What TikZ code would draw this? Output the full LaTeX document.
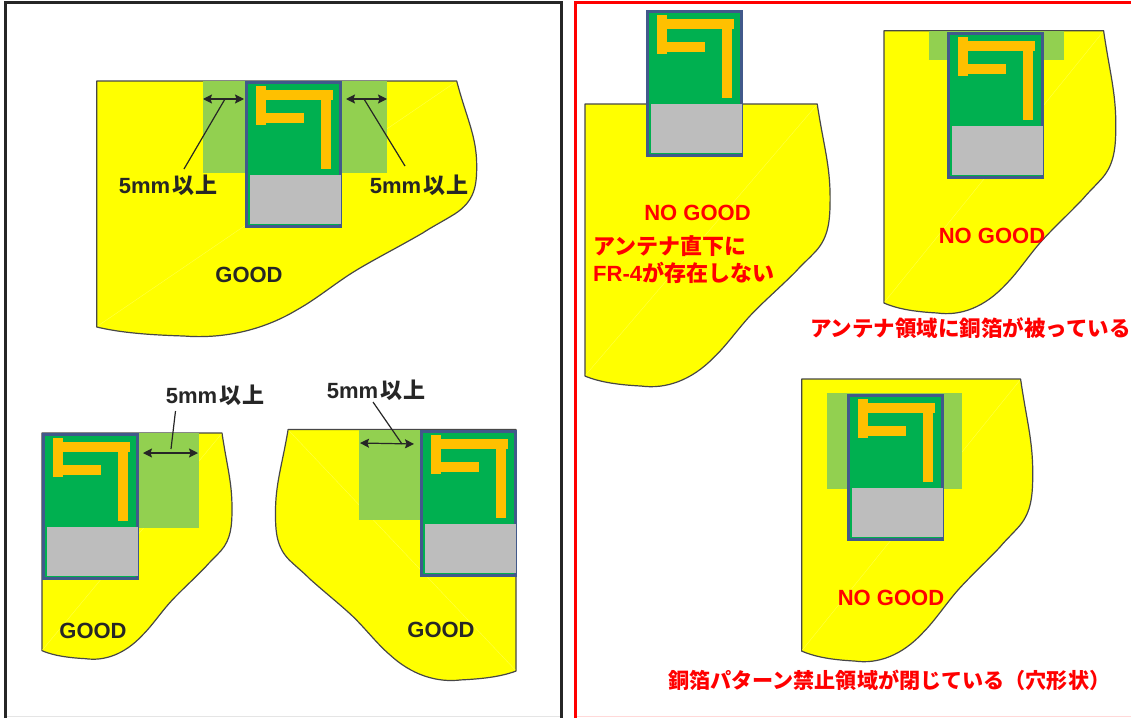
\documentclass[tikz,border=0pt]{standalone}
\usepackage{fontspec}
\usetikzlibrary{arrows.meta}
\setmainfont{Liberation Sans}
\newfontfamily\cjk{Noto Sans CJK JP}
\definecolor{padY}{HTML}{FFFF00}
\definecolor{keepG}{HTML}{92D050}
\definecolor{boardG}{HTML}{00B050}
\definecolor{boardB}{HTML}{41598B}
\definecolor{padS}{HTML}{BDBDBD}
\definecolor{antO}{HTML}{FFC000}
\definecolor{inkD}{HTML}{262626}
\tikzset{
  outlineS/.style={fill=padY,draw=inkD!85,line width=1.2pt,line join=round},
  seamS/.style={draw=padY!72!white,line width=0.4pt},
  keepS/.style={fill=keepG,draw=none},
  dimS/.style={draw=inkD,line width=1.2pt,{Stealth[length=9pt,width=9pt,inset=1.5pt]}-{Stealth[length=9pt,width=9pt,inset=1.5pt]}},
  leadS/.style={draw=inkD,line width=1.2pt},
  okT/.style={font=\fontsize{22}{24}\bfseries,text=inkD,inner sep=0pt},
  ngT/.style={font=\fontsize{22}{24}\bfseries,text=red,inner sep=0pt}
}
\newcommand{\padshape}[4]{%
  \begin{scope}[shift={(#1,#2)},xscale=#3,yscale=#4]
    \path[outlineS] (0,0) -- (360,0) .. controls (370,38) and (380,55) .. (380,85)
      .. controls (380,105) and (378,120) .. (358,133)
      .. controls (345,141) and (335,146) .. (326,152)
      .. controls (300,167) and (280,177) .. (260,189)
      .. controls (240,201) and (220,218) .. (200,229)
      .. controls (165,250) and (125,258) .. (87,255)
      .. controls (55,254) and (25,252) .. (0,246) -- cycle;
    \path[seamS] (1,245) -- (359,1);
  \end{scope}}
\newcommand{\modulebox}[2]{%
  \begin{scope}[shift={(#1,#2)}]
    \path[fill=boardG,draw=boardB,line width=3pt] (1.5,1.5) rectangle (95.5,145.5);
    \path[fill=padS] (5,94) rectangle (96,143);
    \path[fill=antO] (11,9) rectangle (88,19);
    \path[fill=antO] (11,5) rectangle (21,44);
    \path[fill=antO] (11,32) rectangle (59,42);
    \path[fill=antO] (76,19) rectangle (86,88);
  \end{scope}}
\newcommand{\five}{5mm\hspace{2pt}{\cjk 以\hspace{1pt}上}}
\begin{document}
\begin{tikzpicture}[x=1pt,y=-1pt]
\useasboundingbox (0,0) rectangle (1131,717);
\fill[white] (0,0) rectangle (1131,717);
% panels
\draw[gray!20,line width=1pt] (5,716.5) -- (561,716.5);
\draw[red!15,line width=1pt] (575,716.5) -- (1131,716.5);
\draw[inkD,line width=3pt] (5,720) -- (5,3) -- (561,3) -- (561,720);
\draw[red,line width=3pt] (575,720) -- (575,3) -- (1135,3);
% top good
\padshape{96.7}{81}{1}{1}
\fill[keepG] (203,81) rectangle (387,173);
\modulebox{245}{81}
\node[okT] (lblA) at (168,185) {\five};
\node[okT] (lblB) at (419,185) {\five};
\node[okT] (goodA) at (249,275) {GOOD};
\coordinate (a1) at (203,99); \coordinate (a2) at (244,99);
\coordinate (a3) at (346,99); \coordinate (a4) at (387,99);
\coordinate (l1) at (225,99); \coordinate (l2) at (184,169);
\coordinate (l3) at (364,99); \coordinate (l4) at (405,166);
\draw[dimS] (a1) -- (a2);
\draw[dimS] (a3) -- (a4);
\draw[leadS] (l1) -- (l2);
\draw[leadS] (l3) -- (l4);
% bottom left good
\padshape{42}{433}{0.5}{0.885}
\fill[keepG] (139,433) rectangle (199,528);
\modulebox{42}{433}
\node[okT] (lblC) at (215,395) {\five};
\node[okT] (goodB) at (93,630.5) {GOOD};
\coordinate (b1) at (143,453); \coordinate (b2) at (198,453);
\coordinate (b3) at (175.5,411); \coordinate (b4) at (171,449);
\draw[dimS] (b1) -- (b2);
\draw[leadS] (b3) -- (b4);
% bottom right good
\padshape{516}{429.5}{-0.633}{0.982}
\fill[keepG] (359,429.5) rectangle (420,520);
\modulebox{420}{430}
\node[okT] (lblD) at (376,390.5) {\five};
\node[okT] (goodC) at (441,630) {GOOD};
\coordinate (c1) at (360,443); \coordinate (c2) at (414,444);
\coordinate (c3) at (373,402); \coordinate (c4) at (402,444);
\draw[dimS] (c1) -- (c2);
\draw[leadS] (c3) -- (c4);
% NG1
\padshape{585}{104}{0.645}{1.106}
\modulebox{645.5}{10}
\node[ngT] (ngA) at (697.5,213) {NO GOOD};
\node[ngT,anchor=west] (ngA2) at (593,246) {\cjk アンテナ直下に};
\node[ngT,anchor=west] (ngA3) at (593,273) {FR-4{\cjk が存在しない}};
% NG2
\padshape{884}{30.7}{0.61}{1.107}
\fill[keepG] (929,31) rectangle (1064,60);
\modulebox{947}{32}
\node[ngT] (ngB) at (992,236) {NO GOOD};
\node[ngT,anchor=west,font=\fontsize{21.5}{24}\bfseries] (ngB2) at (810,328) {\cjk アンテナ領域に銅箔が被っている};
% NG3
\padshape{801.7}{379}{0.608}{1.106}
\fill[keepG] (827,393) rectangle (962,489);
\modulebox{847}{394}
\node[ngT] (ngC) at (891,598) {NO GOOD};
\node[ngT,anchor=west,font=\fontsize{21.1}{24}\bfseries] (ngC2) at (668,680.5) {\cjk 銅箔パターン禁止領域が閉じている（穴形状）};
\end{tikzpicture}
\end{document}
